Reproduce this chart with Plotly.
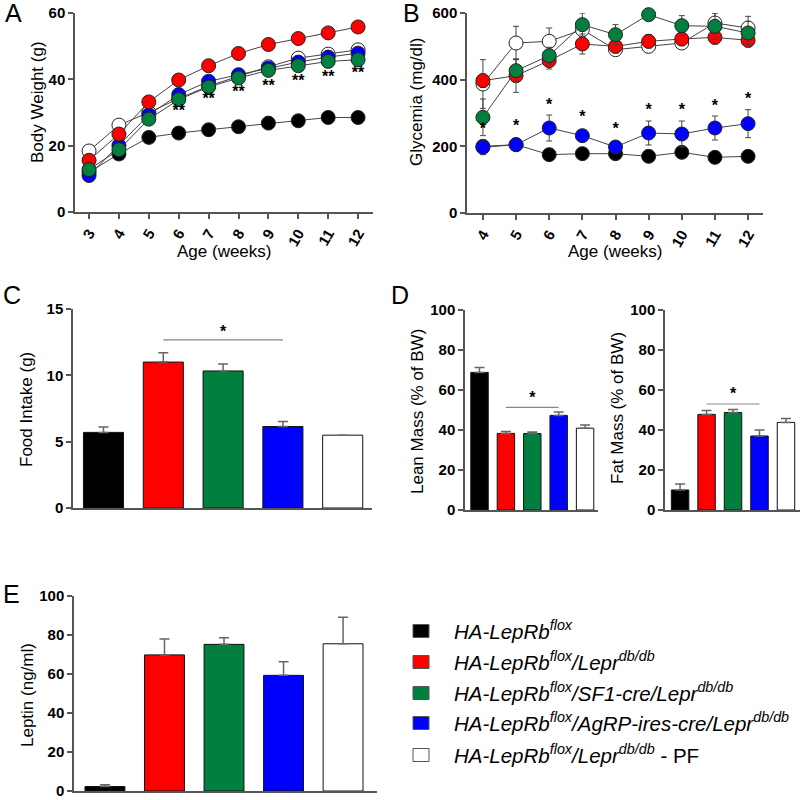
import plotly.graph_objects as go

# Data ==========================================================================
groups = ["HA-LepRb flox", "HA-LepRb flox/Lepr db/db", "HA-LepRb flox/SF1-cre/Lepr db/db",
          "HA-LepRb flox/AgRP-ires-cre/Lepr db/db", "HA-LepRb flox/Lepr db/db - PF"]
colors = ["#000000", "#ff0000", "#007f3f", "#0000ff", "#ffffff"]

# A - body weight
weeks_a = [3, 4, 5, 6, 7, 8, 9, 10, 11, 12]
bw_black = [12.0, 17.5, 22.5, 23.8, 24.8, 25.7, 26.8, 27.5, 28.5, 28.5]
bw_red = [15.6, 23.5, 33.2, 39.8, 44.1, 47.8, 50.5, 52.3, 54.0, 55.8]
bw_green = [12.8, 18.8, 28.0, 33.9, 37.7, 40.4, 42.7, 44.1, 45.4, 45.9]
bw_blue = [11.0, 20.1, 29.3, 35.4, 39.4, 41.4, 43.4, 45.2, 46.7, 47.9]
bw_open = [18.4, 26.2, 30.0, 34.2, 38.0, 41.0, 43.8, 46.4, 47.6, 48.9]
bw_err = [0.8, 0.8, 1.0, 1.0, 1.0, 1.2, 1.2, 1.3, 1.5, 1.5]
stars_a_weeks = [6, 7, 8, 9, 10, 11, 12]
stars_a_y = [30.3, 33.9, 35.9, 37.7, 39.1, 40.4, 41.7]

# B - glycemia
weeks_b = [4, 5, 6, 7, 8, 9, 10, 11, 12]
gl_black = [200, 205, 175, 178, 178, 170, 182, 167, 170]
gl_red = [397, 412, 457, 507, 500, 515, 522, 527, 518]
gl_green = [287, 427, 472, 565, 535, 595, 562, 560, 540]
gl_blue = [197, 205, 255, 232, 198, 240, 237, 255, 268]
gl_open = [387, 510, 515, 550, 490, 500, 510, 570, 555]
gl_black_err = [8, 8, 8, 8, 8, 8, 8, 8, 8]
gl_red_err = [20, 50, 25, 30, 20, 20, 20, 20, 20]
gl_green_err = [55, 35, 25, 35, 30, 10, 30, 40, 35]
gl_blue_err = [22, 10, 39, 15, 10, 36, 39, 36, 42]
gl_open_err = [73, 50, 40, 20, 10, 10, 15, 30, 35]
stars_b_y = [248, 257, 322, 285, 248, 305, 305, 318, 340]

# C - food intake
food = [5.7, 11.0, 10.33, 6.14, 5.49]
food_err = [0.4, 0.7, 0.53, 0.38, 0.0]
# D - body composition
lean = [68.8, 38.3, 38.2, 47.3, 40.9]
lean_err = [2.5, 0.9, 0.8, 1.7, 1.6]
fat = [10.0, 47.8, 48.7, 37.0, 43.8]
fat_err = [3.0, 1.9, 1.6, 3.0, 2.0]
# E - leptin
leptin = [2.3, 69.8, 75.2, 59.3, 75.5]
leptin_err = [0.9, 8.2, 3.4, 7.0, 13.6]

legend_labels = [
    "<i>HA-LepRb<sup>flox</sup></i>",
    "<i>HA-LepRb<sup>flox</sup>/Lepr<sup>db/db</sup></i>",
    "<i>HA-LepRb<sup>flox</sup>/SF1-cre/Lepr<sup>db/db</sup></i>",
    "<i>HA-LepRb<sup>flox</sup>/AgRP-ires-cre/Lepr<sup>db/db</sup></i>",
    "<i>HA-LepRb<sup>flox</sup>/Lepr<sup>db/db</sup></i> - PF",
]

FONT = "Liberation Sans, Arial, sans-serif"
AXC = "#555555"


def dx(a, b):
    return [a / 800, min(b / 800, 1)]


def dy(top, bottom):
    return [1 - bottom / 800, 1 - top / 800]


fig = go.Figure()

# Line panels ------------------------------------------------------------------
def add_line(xs, ys, err, fill, xa, ya):
    fig.add_trace(go.Scatter(
        x=xs, y=ys, mode="lines+markers", xaxis=xa, yaxis=ya,
        line=dict(color="#444444", width=1),
        marker=dict(size=14, color=fill, line=dict(color="#222222", width=1)),
        error_y=dict(type="data", array=err, color="#444444", thickness=1, width=3),
        showlegend=False, cliponaxis=False))

order = [0, 4, 3, 1, 2]
a_series = [bw_black, bw_red, bw_green, bw_blue, bw_open]
b_series = [gl_black, gl_red, gl_green, gl_blue, gl_open]
b_errs = [gl_black_err, gl_red_err, gl_green_err, gl_blue_err, gl_open_err]
for i in order:
    add_line(weeks_a, a_series[i], bw_err, colors[i], "x", "y")
for i in order:
    add_line(weeks_b, b_series[i], b_errs[i], colors[i], "x2", "y2")

fig.add_trace(go.Scatter(x=stars_a_weeks, y=stars_a_y, mode="text", text=["**"] * len(stars_a_weeks),
                         textfont=dict(size=16, family=FONT, color="black", weight="bold"),
                         xaxis="x", yaxis="y", showlegend=False))
fig.add_trace(go.Scatter(x=weeks_b, y=stars_b_y, mode="text", text=["*"] * len(weeks_b),
                         textfont=dict(size=16, family=FONT, color="black", weight="bold"),
                         xaxis="x2", yaxis="y2", showlegend=False))

# Bar panels -------------------------------------------------------------------
bar_x = [0, 1, 2, 3, 4]


def add_bars(vals, errs, xa, ya, width):
    fig.add_trace(go.Bar(
        x=bar_x, y=vals, xaxis=xa, yaxis=ya, width=width,
        marker=dict(color=colors, line=dict(color="#111111", width=1)),
        error_y=dict(type="data", array=errs, arrayminus=[0] * 5, symmetric=False,
                     color="#666666", thickness=1.5, width=5),
        showlegend=False))


add_bars(food, food_err, "x3", "y3", 0.67)
add_bars(lean, lean_err, "x4", "y4", 0.66)
add_bars(fat, fat_err, "x5", "y5", 0.66)
add_bars(leptin, leptin_err, "x6", "y6", 0.67)


def add_sig(y_line, y_star, xa, ya):
    fig.add_trace(go.Scatter(x=[1, 3], y=[y_line, y_line], mode="lines", xaxis=xa, yaxis=ya,
                             line=dict(color="#888888", width=1.2), showlegend=False))
    fig.add_trace(go.Scatter(x=[2], y=[y_star], mode="text", text=["*"], xaxis=xa, yaxis=ya,
                             textfont=dict(size=16, family=FONT, color="black", weight="bold"),
                             showlegend=False))


add_sig(12.67, 13.2, "x3", "y3")
add_sig(51.3, 55.5, "x4", "y4")
add_sig(53.0, 57.5, "x5", "y5")

# Axes ---------------------------------------------------------------------------
common = dict(showline=True, linecolor=AXC, linewidth=1.5, showgrid=False, zeroline=False,
              ticks="outside", ticklen=5, tickcolor=AXC, tickwidth=1.5, automargin=False,
              ticklabeloverflow="allow",
              tickfont=dict(family=FONT, size=15, color="black", weight="bold"), fixedrange=True)
noticks = dict(showline=True, linecolor=AXC, linewidth=1.5, showgrid=False, zeroline=False,
               ticks="", showticklabels=False, automargin=False, fixedrange=True)

fig.update_layout(
    xaxis=dict(domain=dx(75, 373), range=[2.53, 12.5], tickvals=weeks_a, tickangle=-60, anchor="y", **common),
    yaxis=dict(domain=dy(13, 212), range=[0, 60], tickvals=[0, 20, 40, 60], anchor="x", **common),
    xaxis2=dict(domain=dx(467, 763), range=[3.52, 12.45], tickvals=weeks_b, tickangle=-60, anchor="y2", **common),
    yaxis2=dict(domain=dy(13, 213), range=[0, 600], tickvals=[0, 200, 400, 600], anchor="x2", **common),
    xaxis3=dict(domain=dx(73, 372), range=[-0.51, 4.49], anchor="y3", **noticks),
    yaxis3=dict(domain=dy(309, 508), range=[0, 15], tickvals=[0, 5, 10, 15], anchor="x3", **common),
    xaxis4=dict(domain=dx(465, 598), range=[-0.55, 4.49], anchor="y4", **noticks),
    yaxis4=dict(domain=dy(310, 510), range=[0, 100], tickvals=[0, 20, 40, 60, 80, 100], anchor="x4", **common),
    xaxis5=dict(domain=dx(665, 800), range=[-0.57, 4.53], anchor="y5", **noticks),
    yaxis5=dict(domain=dy(310, 510), range=[0, 100], tickvals=[0, 20, 40, 60, 80, 100], anchor="x5", **common),
    xaxis6=dict(domain=dx(74, 377), range=[-0.52, 4.57], anchor="y6", **noticks),
    yaxis6=dict(domain=dy(596, 791), range=[0, 100], tickvals=[0, 20, 40, 60, 80, 100], anchor="x6", **common),
)

# Titles, panel letters, legend -------------------------------------------------
ann = []


def text(x, y, s, size=17, angle=0, xanchor="center", weight="normal"):
    ann.append(dict(x=x / 800, y=1 - y / 800, xref="paper", yref="paper", text=s, showarrow=False,
                    xanchor=xanchor, yanchor="middle", textangle=angle,
                    font=dict(family=FONT, size=size, color="black", weight=weight)))


text(38, 102, "Body Weight (g)", angle=-90)
text(224, 252, "Age (weeks)")
text(417, 102, "Glycemia (mg/dl)", angle=-90)
text(615, 252, "Age (weeks)")
text(27, 410, "Food Intake (g)", angle=-90)
text(417, 412, "Lean Mass (% of BW)", angle=-90)
text(617, 408, "Fat Mass (% of BW)", angle=-90)
text(27, 695, "Leptin (ng/ml)", angle=-90)

text(13, 13, "A", size=25)
text(411, 13, "B", size=25)
text(12, 295, "C", size=25)
text(400, 295, "D", size=25)
text(11, 594, "E", size=25)

shapes = []
rows = [631, 662, 693, 723, 755]
for i, lab in enumerate(legend_labels):
    r = rows[i]
    shapes.append(dict(type="rect", xref="paper", yref="paper",
                       x0=413 / 800, x1=429 / 800, y0=1 - (r + 6.5) / 800, y1=1 - (r - 6.5) / 800,
                       fillcolor=colors[i], line=dict(color="#555555", width=1)))
    text(452, r - 1, lab, size=20.5, xanchor="left")

fig.update_layout(
    width=800, height=800, margin=dict(l=0, r=0, t=0, b=0),
    paper_bgcolor="white", plot_bgcolor="white",
    annotations=ann, shapes=shapes, showlegend=False,
    font=dict(family=FONT),
)

fig.write_html("out.html", config={"displayModeBar": False},
               post_script="document.body.style.margin='0px';")
